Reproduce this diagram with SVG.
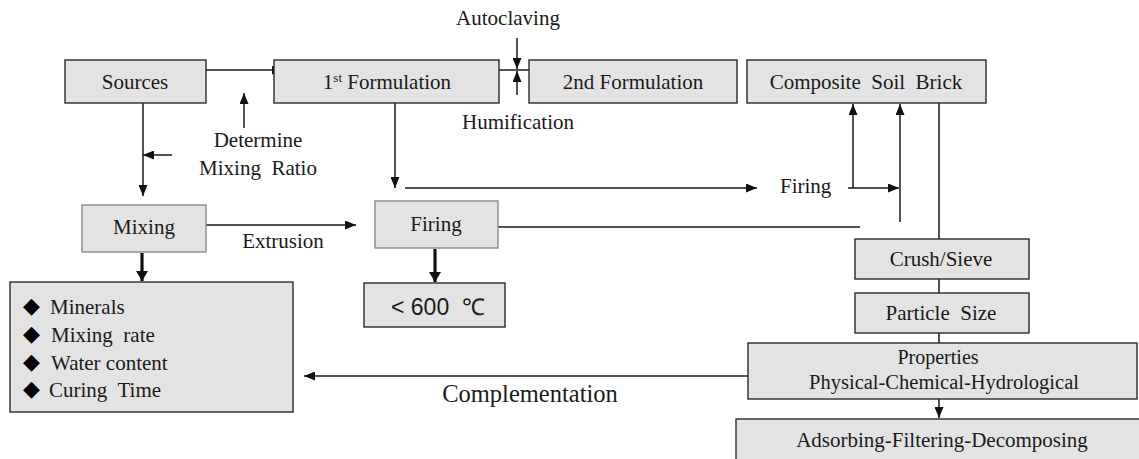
<svg xmlns="http://www.w3.org/2000/svg" width="1139" height="459" viewBox="0 0 1139 459">
<style>
.box{fill:#e3e3e3;stroke:#2a2a2a;stroke-width:1.4}
.lbox{fill:#e3e3e3;stroke:#8a8a8a;stroke-width:1.4}
.t{font-family:"Liberation Serif","Times New Roman",serif;font-size:21px;fill:#1a1a1a}
.c{text-anchor:middle}
.ln{fill:none;stroke:#1a1a1a;stroke-width:1.5}
.thick{fill:none;stroke:#111;stroke-width:3.2}
.dia{font-family:"DejaVu Sans",sans-serif;font-size:22px;fill:#000}
</style>
<defs>
<marker id="a" markerUnits="userSpaceOnUse" markerWidth="11" markerHeight="9" refX="11" refY="4.5" orient="auto"><path d="M0,0 L11,4.5 L0,9 z" fill="#111"/></marker>
<marker id="ak" markerUnits="userSpaceOnUse" markerWidth="13" markerHeight="12" refX="10" refY="6" orient="auto"><path d="M0,0 L10,6 L0,12 z" fill="#111"/></marker>
</defs>
<g id="connectors">
<path class="ln" d="M200,70 H283" marker-end="url(#a)"/>
<path class="ln" d="M244,128 V93" marker-end="url(#a)"/>
<path class="ln" d="M143,103 V196" marker-end="url(#a)"/>
<path class="ln" d="M172,155 H143" marker-end="url(#a)"/>
<path class="ln" d="M196,225 H356" marker-end="url(#a)"/>
<path class="thick" d="M142,253 V281" marker-end="url(#ak)"/>
<path class="ln" d="M499,70 H529"/>
<path class="ln" d="M517,38 V69" marker-end="url(#a)"/>
<path class="ln" d="M517,95 V71" marker-end="url(#a)"/>
<path class="ln" d="M395,103 V188" marker-end="url(#a)"/>
<path class="ln" d="M405,188 H757" marker-end="url(#a)"/>
<path class="ln" d="M848,188 H899" marker-end="url(#a)"/>
<path class="ln" d="M853,188 V104" marker-end="url(#a)"/>
<path class="ln" d="M900,222 V104" marker-end="url(#a)"/>
<path class="ln" d="M498,227 H860"/>
<path class="thick" d="M435,249 V282" marker-end="url(#ak)"/>
<path class="ln" d="M939,103 V239 M939,279 V293 M939,333 V343"/>
<path class="ln" d="M939,399 V418" marker-end="url(#a)"/>
<path class="ln" d="M749,376 H304" marker-end="url(#a)"/>
</g>
<g id="labels">
<text class="t c" x="508" y="25">Autoclaving</text>
<text class="t c" x="518" y="129">Humification</text>
<text class="t c" x="258" y="147">Determine</text>
<text class="t c" x="258" y="175" xml:space="preserve">Mixing  Ratio</text>
<text class="t c" x="283" y="248">Extrusion</text>
<text class="t" x="780" y="193">Firing</text>
<text class="t c" x="530" y="402" style="font-size:24.5px">Complementation</text>
</g>
<g id="sources"><rect class="box" x="65" y="60" width="141" height="43"/><text class="t c" x="135" y="89">Sources</text></g>
<g id="formulation1"><rect class="box" x="274" y="60" width="225" height="43"/><text class="t c" x="387" y="89">1<tspan dy="-7" style="font-size:13px">st</tspan><tspan dy="7"> Formulation</tspan></text></g>
<g id="formulation2"><rect class="box" x="529" y="60" width="208" height="43"/><text class="t c" x="633" y="89">2nd Formulation</text></g>
<g id="composite"><rect class="box" x="747" y="60" width="239" height="43"/><text class="t c" x="866" y="89" xml:space="preserve">Composite  Soil  Brick</text></g>
<g id="mixing"><rect class="lbox" x="82" y="205" width="124" height="47"/><text class="t c" x="144" y="234">Mixing</text></g>
<g id="firing"><rect class="lbox" x="375" y="201" width="123" height="47"/><text class="t c" x="436" y="231">Firing</text></g>
<g id="params"><rect class="box" x="10" y="282" width="283" height="130"/>
<text class="dia" x="23" y="313">◆</text><text class="t" x="50" y="314">Minerals</text>
<text class="dia" x="23" y="341">◆</text><text class="t" x="51" y="342" xml:space="preserve">Mixing  rate</text>
<text class="dia" x="23" y="369">◆</text><text class="t" x="51" y="370">Water content</text>
<text class="dia" x="23" y="396">◆</text><text class="t" x="49" y="397" xml:space="preserve">Curing  Time</text>
</g>
<g id="temp"><rect class="box" x="364" y="283" width="141" height="44"/><text x="438" y="315" text-anchor="middle" style="font-family:'Liberation Sans',Arial,sans-serif;font-size:23px;fill:#1a1a1a" xml:space="preserve">&lt; 600  ℃</text></g>
<g id="crush"><rect class="box" x="855" y="239" width="174" height="40"/><text class="t c" x="941" y="266">Crush/Sieve</text></g>
<g id="particle"><rect class="box" x="855" y="293" width="174" height="40"/><text class="t c" x="941" y="320" xml:space="preserve">Particle  Size</text></g>
<g id="properties"><rect class="box" x="748" y="343" width="389" height="56"/><text class="t c" x="938" y="364" style="font-size:20px">Properties</text><text class="t c" x="944" y="389" style="font-size:20.5px">Physical-Chemical-Hydrological</text></g>
<g id="adsorbing"><rect class="box" x="736" y="419" width="420" height="60"/><text class="t c" x="942" y="447">Adsorbing-Filtering-Decomposing</text></g>
</svg>
